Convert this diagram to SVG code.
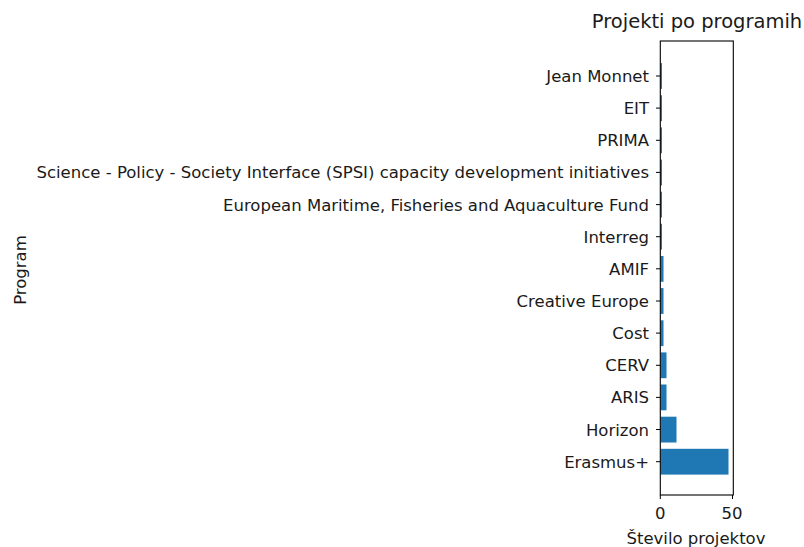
<svg xmlns="http://www.w3.org/2000/svg" width="804" height="547" viewBox="0 0 804 547">
<style>
text{font-family:"DejaVu Sans","Liberation Sans",sans-serif;fill:#1a1a1a}
.tl{font-size:16.5px;text-anchor:end}
.xl{font-size:16.5px;text-anchor:middle}
.bar{fill:#1f77b4}
.tick{stroke:#000;stroke-width:1}
.spine{fill:none;stroke:#000;stroke-width:1.1}
</style>
<rect width="804" height="547" fill="#fff"/>
<text x="697" y="28" style="font-size:19.5px;text-anchor:middle">Projekti po programih</text>
<g id="bars">
<rect class="bar" x="660.5" y="63.1" width="1.5" height="25.8"/>
<rect class="bar" x="660.5" y="95.3" width="1.5" height="25.8"/>
<rect class="bar" x="660.5" y="127.4" width="1.5" height="25.8"/>
<rect class="bar" x="660.5" y="159.6" width="1.5" height="25.8"/>
<rect class="bar" x="660.5" y="191.7" width="1.5" height="25.8"/>
<rect class="bar" x="660.5" y="223.8" width="1.5" height="25.8"/>
<rect class="bar" x="660.5" y="256.0" width="3" height="25.8"/>
<rect class="bar" x="660.5" y="288.1" width="3" height="25.8"/>
<rect class="bar" x="660.5" y="320.3" width="3" height="25.8"/>
<rect class="bar" x="660.5" y="352.4" width="6" height="25.8"/>
<rect class="bar" x="660.5" y="384.5" width="6" height="25.8"/>
<rect class="bar" x="660.5" y="416.7" width="16" height="25.8"/>
<rect class="bar" x="660.5" y="448.8" width="68" height="25.8"/>
</g>
<g id="axes">
<rect class="spine" x="660.3" y="41" width="73" height="454"/>
<g class="tick">
<line x1="656" y1="76" x2="660.3" y2="76"/>
<line x1="656" y1="108.1" x2="660.3" y2="108.1"/>
<line x1="656" y1="140.3" x2="660.3" y2="140.3"/>
<line x1="656" y1="172.4" x2="660.3" y2="172.4"/>
<line x1="656" y1="204.6" x2="660.3" y2="204.6"/>
<line x1="656" y1="236.7" x2="660.3" y2="236.7"/>
<line x1="656" y1="268.8" x2="660.3" y2="268.8"/>
<line x1="656" y1="301" x2="660.3" y2="301"/>
<line x1="656" y1="333.1" x2="660.3" y2="333.1"/>
<line x1="656" y1="365.3" x2="660.3" y2="365.3"/>
<line x1="656" y1="397.4" x2="660.3" y2="397.4"/>
<line x1="656" y1="429.5" x2="660.3" y2="429.5"/>
<line x1="656" y1="461.7" x2="660.3" y2="461.7"/>
<line x1="660.3" y1="495" x2="660.3" y2="499"/>
<line x1="732.5" y1="495" x2="732.5" y2="499"/>
</g>
</g>
<g id="labels">
<text class="tl" x="649" y="82">Jean Monnet</text>
<text class="tl" x="649" y="114.1">EIT</text>
<text class="tl" x="649" y="146.3">PRIMA</text>
<text class="tl" x="649" y="178.4">Science - Policy - Society Interface (SPSI) capacity development initiatives</text>
<text class="tl" x="649" y="210.6">European Maritime, Fisheries and Aquaculture Fund</text>
<text class="tl" x="649" y="242.7">Interreg</text>
<text class="tl" x="649" y="274.8">AMIF</text>
<text class="tl" x="649" y="307">Creative Europe</text>
<text class="tl" x="649" y="339.1">Cost</text>
<text class="tl" x="649" y="371.3">CERV</text>
<text class="tl" x="649" y="403.4">ARIS</text>
<text class="tl" x="649" y="435.5">Horizon</text>
<text class="tl" x="649" y="467.7">Erasmus+</text>
<text class="xl" x="660.3" y="519">0</text>
<text class="xl" x="732" y="519">50</text>
<text class="xl" x="696" y="544">Število projektov</text>
<text class="xl" transform="translate(26,270) rotate(-90)">Program</text>
</g>
</svg>
